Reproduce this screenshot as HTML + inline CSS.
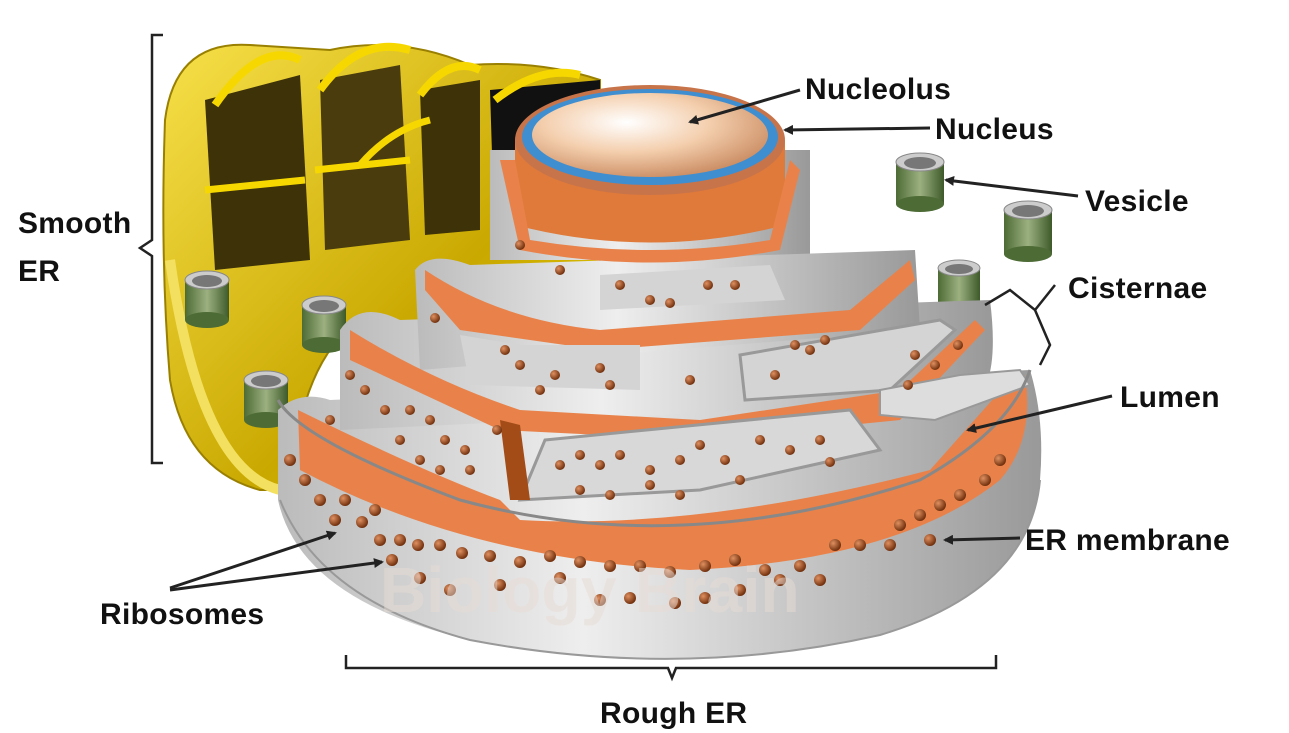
<!DOCTYPE html>
<html><head><meta charset="utf-8">
<style>
html,body{margin:0;padding:0;background:#fff;}
svg{display:block}
text{font-family:"Liberation Sans",sans-serif;font-weight:bold;font-size:30px;letter-spacing:0.3px;fill:#111}
</style></head><body>
<svg width="1289" height="733" viewBox="0 0 1289 733" xmlns="http://www.w3.org/2000/svg">
<defs>
<linearGradient id="gy" x1="0" x2="1" y1="0" y2="0">
<stop offset="0" stop-color="#bbb"/><stop offset="0.4" stop-color="#eee"/><stop offset="1" stop-color="#999"/></linearGradient>
<linearGradient id="yl" x1="0" x2="1" y1="0" y2="1">
<stop offset="0" stop-color="#f7e04a"/><stop offset="0.6" stop-color="#c9a800"/><stop offset="1" stop-color="#e8d000"/></linearGradient>
<radialGradient id="nuc" cx="0.4" cy="0.35" r="0.7">
<stop offset="0" stop-color="#fff"/><stop offset="0.5" stop-color="#f4cfae"/><stop offset="1" stop-color="#c98a60"/></radialGradient>
<radialGradient id="rib" cx="0.35" cy="0.35" r="0.7">
<stop offset="0" stop-color="#e09060"/><stop offset="1" stop-color="#6a2a08"/></radialGradient>
<linearGradient id="gr" x1="0" x2="1"><stop offset="0" stop-color="#4d6b35"/><stop offset="0.5" stop-color="#9cb080"/><stop offset="1" stop-color="#3e5a2a"/></linearGradient>
<marker id="ah" markerWidth="10" markerHeight="10" refX="8" refY="5" orient="auto" markerUnits="userSpaceOnUse"><path d="M0,0 L10,5 L0,10 Z" fill="#222"/></marker>
</defs>

<path d="M165,120 Q175,40 250,45 L330,50 Q400,35 470,65 Q540,60 600,80 L600,300 L480,300 L430,330 L360,320 Q300,360 290,490 L260,490 Q185,470 170,380 Q160,260 165,120 Z" fill="url(#yl)" stroke="#9a8000" stroke-width="2"/>
<path d="M205,100 L300,75 L310,260 L215,270 Z" fill="#3d3208"/>
<path d="M320,80 L400,65 L410,240 L325,250 Z" fill="#4a3c0c"/>
<path d="M420,90 L480,80 L480,230 L425,235 Z" fill="#3d3208"/>
<path d="M490,90 L600,80 L600,250 L495,250 Z" fill="#111"/>
<path d="M215,105 Q260,40 300,60" stroke="#f6d800" stroke-width="8" fill="none"/>
<path d="M320,90 Q360,35 410,50" stroke="#f6d800" stroke-width="8" fill="none"/>
<path d="M420,95 Q450,55 480,70" stroke="#f6d800" stroke-width="8" fill="none"/>
<path d="M495,100 Q540,65 580,75" stroke="#f6d800" stroke-width="8" fill="none"/>
<path d="M205,190 L305,180 M315,170 L410,160 M360,165 Q390,130 430,120" stroke="#f6d800" stroke-width="7" fill="none"/>
<path d="M170,260 Q200,470 280,490" stroke="#f3e060" stroke-width="10" fill="none"/>

<g>
<rect x="185" y="280" width="44" height="40" fill="url(#gr)"/><ellipse cx="207" cy="320" rx="22" ry="8" fill="#4d6b35"/><ellipse cx="207" cy="280" rx="22" ry="9" fill="#ccc" stroke="#888"/><ellipse cx="207" cy="281" rx="15" ry="6" fill="#777"/>
<rect x="302" y="305" width="44" height="40" fill="url(#gr)"/><ellipse cx="324" cy="345" rx="22" ry="8" fill="#4d6b35"/><ellipse cx="324" cy="305" rx="22" ry="9" fill="#ccc" stroke="#888"/><ellipse cx="324" cy="306" rx="15" ry="6" fill="#777"/>
<rect x="244" y="380" width="44" height="40" fill="url(#gr)"/><ellipse cx="266" cy="420" rx="22" ry="8" fill="#4d6b35"/><ellipse cx="266" cy="380" rx="22" ry="9" fill="#ccc" stroke="#888"/><ellipse cx="266" cy="381" rx="15" ry="6" fill="#777"/>
<rect x="896" y="162" width="48" height="42" fill="url(#gr)"/><ellipse cx="920" cy="204" rx="24" ry="8" fill="#4d6b35"/><ellipse cx="920" cy="162" rx="24" ry="9" fill="#ccc" stroke="#888"/><ellipse cx="920" cy="163" rx="16" ry="6" fill="#777"/>
<rect x="1004" y="210" width="48" height="44" fill="url(#gr)"/><ellipse cx="1028" cy="254" rx="24" ry="8" fill="#4d6b35"/><ellipse cx="1028" cy="210" rx="24" ry="9" fill="#ccc" stroke="#888"/><ellipse cx="1028" cy="211" rx="16" ry="6" fill="#777"/>
<rect x="938" y="268" width="42" height="50" fill="url(#gr)"/><ellipse cx="959" cy="268" rx="21" ry="8" fill="#ccc" stroke="#888"/><ellipse cx="959" cy="269" rx="14" ry="5" fill="#777"/>
</g>

<path d="M490,150 L490,260 L810,260 L810,150 Z" fill="url(#gy)"/>
<path d="M515,140 L515,225 Q650,260 785,225 L785,140 Z" fill="#e07a3a"/>
<ellipse cx="650" cy="140" rx="135" ry="55" fill="#c8744a"/>
<ellipse cx="650" cy="137" rx="128" ry="48" fill="#3f8ed0"/>
<ellipse cx="650" cy="135" rx="118" ry="42" fill="url(#nuc)"/>

<path d="M278,410 Q300,390 330,400 L1030,370 Q1045,420 1040,480 Q1030,590 880,635 Q680,680 470,640 Q300,600 278,500 Z" fill="url(#gy)"/>
<path d="M340,330 Q360,300 400,320 L990,300 Q1000,380 975,400 L340,430 Z" fill="url(#gy)"/>
<path d="M415,270 Q430,250 470,265 L915,250 L920,330 L420,370 Z" fill="url(#gy)"/>
<path d="M298,410 Q420,470 500,500 L520,520 Q700,530 930,470 L1010,380 L1025,375 Q1035,440 1000,480 Q900,560 690,570 Q470,560 300,470 Z" fill="#e8824a"/>
<path d="M350,330 Q430,380 520,410 L700,420 L900,390 L975,320 L985,330 L900,420 L700,440 L500,430 L350,360 Z" fill="#e8824a"/>
<path d="M425,270 Q500,320 600,330 L850,310 L910,260 L915,280 L860,330 L600,350 L460,330 L425,290 Z" fill="#e8824a"/>
<path d="M500,160 L520,250 Q650,275 780,250 L800,170 L790,160 L770,240 Q650,260 530,240 L515,160 Z" fill="#e8824a"/>
<path d="M545,440 L850,410 L880,450 L700,490 L520,500 Z" fill="#d8d8d8" stroke="#999" stroke-width="3"/>
<path d="M740,355 L940,320 L955,330 L890,390 L745,400 Z" fill="#d4d4d4" stroke="#999" stroke-width="3"/>
<path d="M460,335 L520,345 L640,345 L640,390 L470,385 Z" fill="#d4d4d4"/>
<path d="M600,275 L770,265 L785,300 L600,310 Z" fill="#d4d4d4"/>
<path d="M880,390 L960,375 L1020,370 L1030,385 L935,420 L880,415 Z" fill="#ddd" stroke="#999" stroke-width="2"/>
<path d="M500,420 L510,500 L530,500 L520,425 Z" fill="#a44c18"/>
<path d="M278,400 Q300,440 460,500 Q680,560 920,480 Q1010,430 1030,370" stroke="#888" stroke-width="3" fill="none"/>
<path d="M280,500 Q320,600 470,640 Q680,680 880,635 Q1030,590 1040,480" stroke="#999" stroke-width="2" fill="none"/>

<g fill="url(#rib)">
<circle cx="290" cy="460" r="6"/><circle cx="305" cy="480" r="6"/><circle cx="320" cy="500" r="6"/><circle cx="345" cy="500" r="6"/><circle cx="335" cy="520" r="6"/><circle cx="362" cy="522" r="6"/><circle cx="375" cy="510" r="6"/>
<circle cx="380" cy="540" r="6"/><circle cx="400" cy="540" r="6"/><circle cx="418" cy="545" r="6"/><circle cx="440" cy="545" r="6"/><circle cx="462" cy="553" r="6"/><circle cx="490" cy="556" r="6"/><circle cx="520" cy="562" r="6"/><circle cx="550" cy="556" r="6"/><circle cx="580" cy="562" r="6"/><circle cx="610" cy="566" r="6"/><circle cx="640" cy="566" r="6"/><circle cx="670" cy="572" r="6"/><circle cx="705" cy="566" r="6"/><circle cx="735" cy="560" r="6"/><circle cx="765" cy="570" r="6"/><circle cx="800" cy="566" r="6"/><circle cx="835" cy="545" r="6"/><circle cx="860" cy="545" r="6"/><circle cx="900" cy="525" r="6"/><circle cx="920" cy="515" r="6"/><circle cx="940" cy="505" r="6"/><circle cx="960" cy="495" r="6"/><circle cx="985" cy="480" r="6"/><circle cx="1000" cy="460" r="6"/>
<circle cx="392" cy="560" r="6"/><circle cx="420" cy="578" r="6"/><circle cx="450" cy="590" r="6"/><circle cx="500" cy="585" r="6"/><circle cx="560" cy="578" r="6"/><circle cx="600" cy="600" r="6"/><circle cx="630" cy="598" r="6"/><circle cx="675" cy="603" r="6"/><circle cx="705" cy="598" r="6"/><circle cx="740" cy="590" r="6"/><circle cx="780" cy="580" r="6"/><circle cx="820" cy="580" r="6"/><circle cx="890" cy="545" r="6"/><circle cx="930" cy="540" r="6"/>
<circle cx="330" cy="420" r="5"/><circle cx="350" cy="375" r="5"/><circle cx="365" cy="390" r="5"/><circle cx="385" cy="410" r="5"/><circle cx="410" cy="410" r="5"/><circle cx="430" cy="420" r="5"/><circle cx="445" cy="440" r="5"/><circle cx="465" cy="450" r="5"/><circle cx="470" cy="470" r="5"/><circle cx="400" cy="440" r="5"/><circle cx="420" cy="460" r="5"/><circle cx="440" cy="470" r="5"/><circle cx="497" cy="430" r="5"/>
<circle cx="580" cy="455" r="5"/><circle cx="600" cy="465" r="5"/><circle cx="620" cy="455" r="5"/><circle cx="650" cy="470" r="5"/><circle cx="680" cy="460" r="5"/><circle cx="700" cy="445" r="5"/><circle cx="725" cy="460" r="5"/><circle cx="760" cy="440" r="5"/><circle cx="790" cy="450" r="5"/><circle cx="820" cy="440" r="5"/><circle cx="830" cy="462" r="5"/><circle cx="580" cy="490" r="5"/><circle cx="610" cy="495" r="5"/><circle cx="650" cy="485" r="5"/><circle cx="680" cy="495" r="5"/><circle cx="740" cy="480" r="5"/><circle cx="560" cy="465" r="5"/>
<circle cx="435" cy="318" r="5"/><circle cx="505" cy="350" r="5"/><circle cx="520" cy="365" r="5"/><circle cx="555" cy="375" r="5"/><circle cx="600" cy="368" r="5"/><circle cx="610" cy="385" r="5"/><circle cx="540" cy="390" r="5"/>
<circle cx="520" cy="245" r="5"/><circle cx="560" cy="270" r="5"/><circle cx="620" cy="285" r="5"/><circle cx="650" cy="300" r="5"/><circle cx="670" cy="303" r="5"/><circle cx="708" cy="285" r="5"/><circle cx="735" cy="285" r="5"/>
<circle cx="795" cy="345" r="5"/><circle cx="810" cy="350" r="5"/><circle cx="825" cy="340" r="5"/><circle cx="775" cy="375" r="5"/><circle cx="908" cy="385" r="5"/><circle cx="935" cy="365" r="5"/><circle cx="915" cy="355" r="5"/><circle cx="690" cy="380" r="5"/><circle cx="958" cy="345" r="5"/>
</g>
<text x="380" y="612" style="font-size:64px;fill:#e8dcd6;opacity:0.5">Biology Brain</text>

<path d="M163,35 L152,35 L152,240 L140,248 L152,256 L152,463 L163,463" stroke="#222" stroke-width="2.5" fill="none"/>
<path d="M346,655 L346,668 L668,668 L672,678 L676,668 L996,668 L996,655" stroke="#222" stroke-width="2.5" fill="none"/>
<path d="M985,305 L1010,290 L1035,310 L1055,285 M1035,310 L1050,345 L1040,365" stroke="#222" stroke-width="2.5" fill="none"/>

<g stroke="#222" stroke-width="3" fill="none" marker-end="url(#ah)">
<line x1="800" y1="90" x2="690" y2="122"/>
<line x1="930" y1="128" x2="785" y2="130"/>
<line x1="1078" y1="196" x2="946" y2="180"/>
<line x1="1112" y1="396" x2="968" y2="430"/>
<line x1="1020" y1="538" x2="945" y2="540"/>
<line x1="170" y1="588" x2="335" y2="533"/>
<line x1="170" y1="590" x2="382" y2="562"/>
</g>

<text x="805" y="99">Nucleolus</text>
<text x="935" y="139">Nucleus</text>
<text x="1085" y="211">Vesicle</text>
<text x="1068" y="298">Cisternae</text>
<text x="1120" y="407">Lumen</text>
<text x="1025" y="550">ER membrane</text>
<text x="100" y="624">Ribosomes</text>
<text x="18" y="233">Smooth</text>
<text x="18" y="281">ER</text>
<text x="600" y="723">Rough ER</text>
</svg>
</body></html>
